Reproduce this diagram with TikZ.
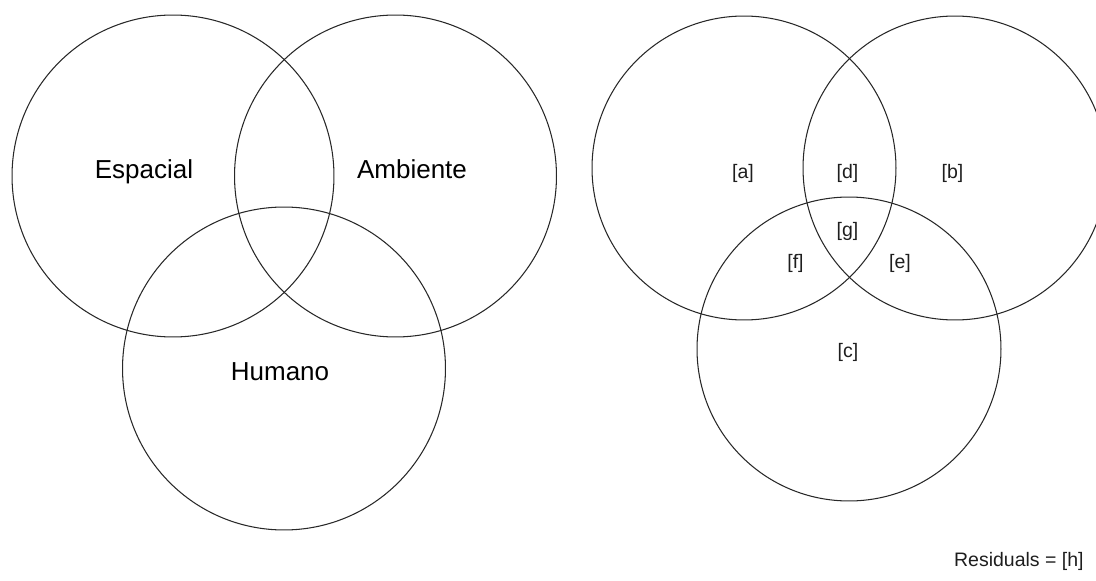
\documentclass[tikz,border=0pt]{standalone}
\usepackage{fontspec}
\setmainfont{Liberation Sans}
\usepackage{tikz}
\usetikzlibrary{positioning}
\usepackage{xcolor}
\definecolor{vnline}{RGB}{40,40,40}
\definecolor{vntext}{RGB}{30,30,30}
\tikzstyle{setcircle} = [circle, draw=vnline, line width=0.6pt, inner sep=0pt, minimum size=6.44cm]
\tikzstyle{smallcircle} = [circle, draw=vnline, line width=0.6pt, inner sep=0pt, minimum size=6.08cm]
\tikzstyle{setname} = [anchor=base, inner sep=0pt, font=\fontsize{14.8}{16}\selectfont]
\tikzstyle{partname} = [anchor=base, inner sep=0pt, text=vntext, font=\fontsize{11.1}{13}\selectfont]

\begin{document}
\begin{tikzpicture}[x=0.02cm, y=-0.02cm]
\useasboundingbox (0,0) rectangle (1096,581);
\clip (0,0) rectangle (1096,581);

% Espacial
\node[setcircle] (esp) at (173,176) {};
% Ambiente
\node[setcircle] (amb) at (395.5,176) {};
% Humano
\node[setcircle, minimum size=6.46cm] (hum) at (284,368.5) {};

\node[setname] (espname) at (144,178) {Espacial};
\node[setname] (ambname) at (412,178) {Ambiente};
\node[setname] (humname) at (280,380) {Humano};

% Fractions
\node[smallcircle] (seta) at (744,168) {};
\node[smallcircle] (setb) at (955,168) {};
\node[smallcircle] (setc) at (849,349) {};

\node[partname] (fa) at (743,178) {[a]};
\node[partname] (fd) at (847.5,178) {[d]};
\node[partname] (fb) at (952.5,178) {[b]};
\node[partname] (fg) at (847.5,236) {[g]};
\node[partname] (ff) at (795.5,268) {[f]};
\node[partname] (fe) at (900,268) {[e]};
\node[partname] (fc) at (848,357) {[c]};

% Residuals
\node[partname, anchor=base east] (resid) at (1084,566) {Residuals = [h]};
\end{tikzpicture}
\end{document}
